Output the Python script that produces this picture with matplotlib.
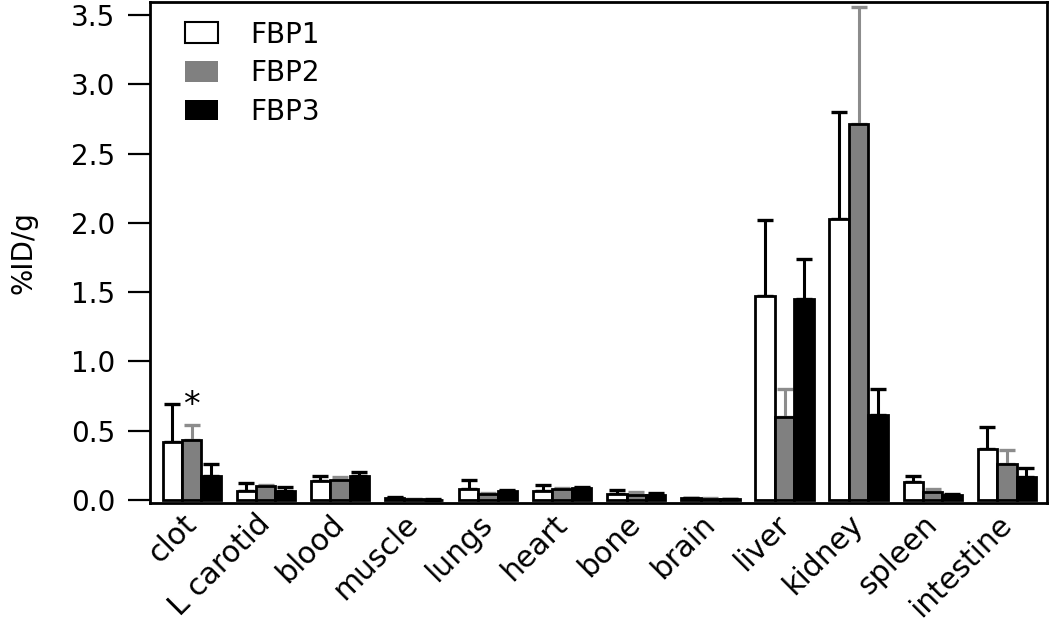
import numpy as np
import matplotlib
matplotlib.use("Agg")
import matplotlib.pyplot as plt
from matplotlib.patches import Patch

organs = ['clot', 'L carotid', 'blood', 'muscle', 'lungs', 'heart',
          'bone', 'brain', 'liver', 'kidney', 'spleen', 'intestine']

fbp1 = [0.42, 0.065, 0.14, 0.012, 0.08, 0.065, 0.04, 0.012, 1.47, 2.03, 0.128, 0.366]
fbp1_sd = [0.27, 0.055, 0.03, 0.012, 0.065, 0.04, 0.03, 0.004, 0.55, 0.77, 0.042, 0.16]
fbp2 = [0.43, 0.10, 0.145, 0.007, 0.045, 0.077, 0.034, 0.008, 0.60, 2.71, 0.06, 0.26]
fbp2_sd = [0.11, 0.005, 0.02, 0.002, 0.008, 0.008, 0.02, 0.004, 0.20, 0.85, 0.017, 0.10]
fbp3 = [0.17, 0.067, 0.17, 0.003, 0.065, 0.089, 0.034, 0.005, 1.45, 0.61, 0.038, 0.168]
fbp3_sd = [0.09, 0.03, 0.03, 0.002, 0.007, 0.004, 0.015, 0.003, 0.29, 0.19, 0.004, 0.06]

series = [('FBP1', fbp1, fbp1_sd, 'white', 'black'),
          ('FBP2', fbp2, fbp2_sd, '#808080', '#8c8c8c'),
          ('FBP3', fbp3, fbp3_sd, 'black', 'black')]

plt.rcParams['font.family'] = ['DejaVu Sans']
fig = plt.figure(figsize=(10.5, 6.29), dpi=100)
ax = fig.add_axes([0.143, 0.2003, 0.854, 0.7965])

x = np.arange(len(organs))
w = 0.262
for i, (name, vals, sd, fc, ec) in enumerate(series):
    pos = x + (i - 1) * w
    ax.errorbar(pos, vals, yerr=[np.zeros(len(sd)), sd], fmt='none',
                ecolor=ec, elinewidth=2.2, capsize=6, capthick=2.4, zorder=1)
    ax.bar(pos, vals, width=w, color=fc, edgecolor='black', linewidth=2, zorder=2)

# significance mark over clot FBP2
ax.text(x[0], fbp2[0] + fbp2_sd[0] + 0.02, '*', ha='center', va='bottom', fontsize=24)

ax.set_xlim(-0.56, 11.54)
ax.set_ylim(-0.022, 3.594)
ax.set_yticks(np.arange(0, 3.51, 0.5))
ax.set_yticklabels([f'{v:.1f}' for v in np.arange(0, 3.51, 0.5)])
ax.set_xticks(x)
ax.set_xticklabels(organs, rotation=45, ha='right', va='center', rotation_mode='anchor')
ax.tick_params(axis='y', length=16, width=1.6, pad=9, labelsize=20)
ax.tick_params(axis='x', length=0, pad=12, labelsize=21.5)
for s in ax.spines.values():
    s.set_linewidth(2)
ax.set_ylabel('%ID/g', fontsize=20, labelpad=24)

handles = [Patch(facecolor='white', edgecolor='black', linewidth=1.5),
           Patch(facecolor='#808080', edgecolor='none'),
           Patch(facecolor='black', edgecolor='none')]
ax.legend(handles, ['FBP1', 'FBP2', 'FBP3'], loc='upper left',
          bbox_to_anchor=(0.039, 0.963), frameon=False, fontsize=20,
          handlelength=1.19, handleheight=0.78, handletextpad=1.15,
          labelspacing=0.38, borderpad=0, borderaxespad=0)

fig.savefig('out.png', dpi=100)
